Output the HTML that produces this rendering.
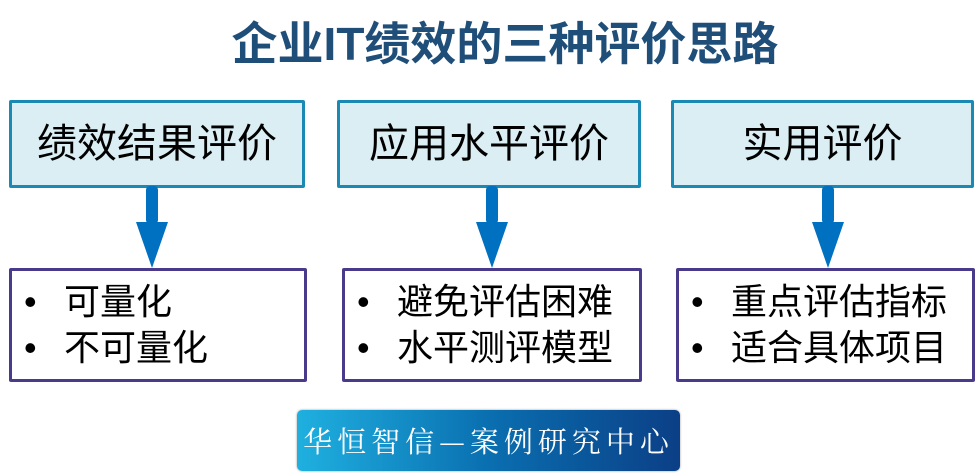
<!DOCTYPE html>
<html><head><meta charset="utf-8"><style>
body{margin:0;width:978px;height:475px;background:#fff;position:relative;overflow:hidden;font-family:"Liberation Sans","Noto Sans CJK SC",sans-serif}
.t{position:absolute;left:16px;width:978px;top:12px;text-align:center;font-size:46px;font-weight:bold;color:#1f4e79;line-height:64px}
.top{position:absolute;top:100px;height:82px;background:#daeef3;border:3px solid #1a8ab4;border-radius:2px;font-size:40px;line-height:82px;text-align:center;color:#000}
.bot{position:absolute;top:268px;height:108px;background:#fff;border:3px solid #4a3a8c;border-radius:2px;font-size:36px;color:#000}
.bot div{line-height:46px;margin-top:8px;padding-left:12px;white-space:nowrap}
.bot div+div{margin-top:0}
.bot span{display:inline-block;width:40px}
.bn{position:absolute;left:297px;top:410px;width:383px;height:61px;border-radius:5px;background:linear-gradient(90deg,#1fb0e0,#0a6fb0 50%,#0b3f86);color:#fff;font-family:"Noto Serif CJK SC",serif;font-size:29px;line-height:61px;text-align:center;letter-spacing:5px;box-shadow:0 0 2px #999}
</style></head><body>
<div class="t">企业IT绩效的三种评价思路</div>
<div class="top" style="left:9px;width:290px">绩效结果评价</div>
<div class="top" style="left:337px;width:298px">应用水平评价</div>
<div class="top" style="left:671px;width:297px">实用评价</div>
<svg width="978" height="475" style="position:absolute;left:0;top:0">
<g fill="#0070c0">
<rect x="146" y="186" width="12" height="38" rx="4"/><polygon points="136,222 168,222 152,268"/>
<rect x="486" y="186" width="12" height="38" rx="4"/><polygon points="476,222 508,222 492,268"/>
<rect x="822" y="186" width="12" height="38" rx="4"/><polygon points="812,222 844,222 828,268"/>
</g></svg>
<div class="bot" style="left:9px;width:292px"><div><span>•</span>可量化</div><div><span>•</span>不可量化</div></div>
<div class="bot" style="left:342px;width:294px"><div><span>•</span>避免评估困难</div><div><span>•</span>水平测评模型</div></div>
<div class="bot" style="left:676px;width:293px"><div><span>•</span>重点评估指标</div><div><span>•</span>适合具体项目</div></div>
<div class="bn">华恒智信—案例研究中心</div>
</body></html>
